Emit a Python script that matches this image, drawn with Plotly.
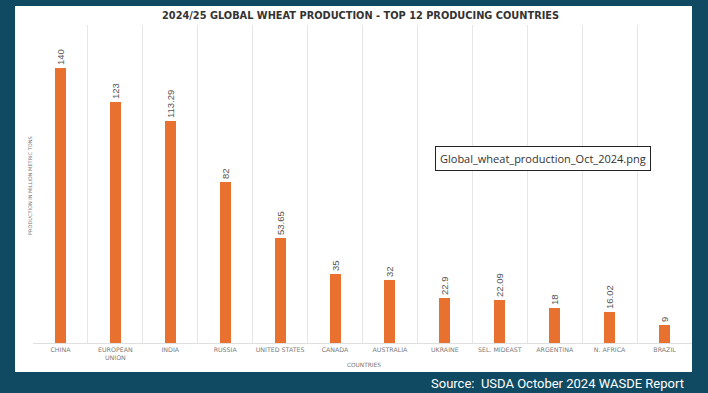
import plotly.graph_objects as go

countries = ["CHINA", "EUROPEAN<br>UNION", "INDIA", "RUSSIA", "UNITED STATES", "CANADA",
             "AUSTRALIA", "UKRAINE", "SEL. MIDEAST", "ARGENTINA", "N. AFRICA", "BRAZIL"]
production = [140, 123, 113.29, 82, 53.65, 35, 32, 22.9, 22.09, 18, 16.02, 9]
labels = ["140", "123", "113.29", "82", "53.65", "35", "32", "22.9", "22.09", "18", "16.02", "9"]

W, H = 708, 393
L, R, T, B = 33, 16, 25, 50
pw, ph = W - L - R, H - T - B

def px(x):
    return (x - L) / pw

def py(y):
    return (H - B - y) / ph

fig = go.Figure()
fig.add_trace(go.Bar(
    x=countries, y=production, width=0.2,
    marker=dict(color="#E8712F", line=dict(width=0)),
    text=labels, textposition="outside", textangle=-90,
    textfont=dict(family="Liberation Sans", size=9.5, color="#555555"),
    cliponaxis=False,
))

fig.update_layout(
    width=W, height=H,
    margin=dict(l=L, r=R, t=T, b=B),
    paper_bgcolor="#0F4A62",
    plot_bgcolor="white",
    showlegend=False,
    bargap=0,
    uniformtext=dict(minsize=9.5, mode="show"),
    xaxis=dict(
        tickson="boundaries", showgrid=True, gridcolor="#E6E6E6", gridwidth=1,
        ticks="", tickfont=dict(family="DejaVu Sans", size=6.3, color="#7A7A7A"),
        showline=True, linecolor="#E0E0E0", linewidth=1, zeroline=False,
        tickangle=0,
    ),
    yaxis=dict(range=[0, 162], showgrid=False, showticklabels=False, zeroline=False,
               ticks="", showline=False),
    shapes=[dict(type="rect", xref="paper", yref="paper", layer="below",
                 x0=px(15), x1=px(692), y0=py(372), y1=py(6),
                 fillcolor="white", line=dict(width=0))],
    annotations=[
        dict(text="<b>2024/25 GLOBAL WHEAT PRODUCTION - TOP 12 PRODUCING COUNTRIES</b>",
             xref="paper", yref="paper", x=px(360), y=py(15), showarrow=False,
             xanchor="center", yanchor="middle",
             font=dict(family="DejaVu Sans", size=9.8, color="#333333")),
        dict(text="PRODUCTION IN MILLION METRIC TONS", textangle=-90,
             xref="paper", yref="paper", x=px(30), y=py(186), showarrow=False,
             xanchor="center", yanchor="middle",
             font=dict(family="DejaVu Sans", size=5, color="#777777")),
        dict(text="COUNTRIES", xref="paper", yref="paper", x=px(364), y=py(365),
             xanchor="center", yanchor="middle",
             showarrow=False, font=dict(family="DejaVu Sans", size=5.8, color="#777777")),
        dict(text="Global_wheat_production_Oct_2024.png", xref="paper", yref="paper",
             x=px(543), y=py(158), showarrow=False, bgcolor="white",
             xanchor="center", yanchor="middle",
             bordercolor="#222222", borderwidth=1, borderpad=4,
             font=dict(family="Open Sans", size=11, color="#333333")),
        dict(text="Source:  USDA October 2024 WASDE Report", xref="paper", yref="paper",
             x=px(686), y=py(383), xanchor="right", yanchor="middle", showarrow=False,
             font=dict(family="Roboto", size=13, color="#FFFFFF")),
    ],
)

fig.write_html("out.html", config={"displayModeBar": False},
               post_script="document.body.style.margin='0px';")
